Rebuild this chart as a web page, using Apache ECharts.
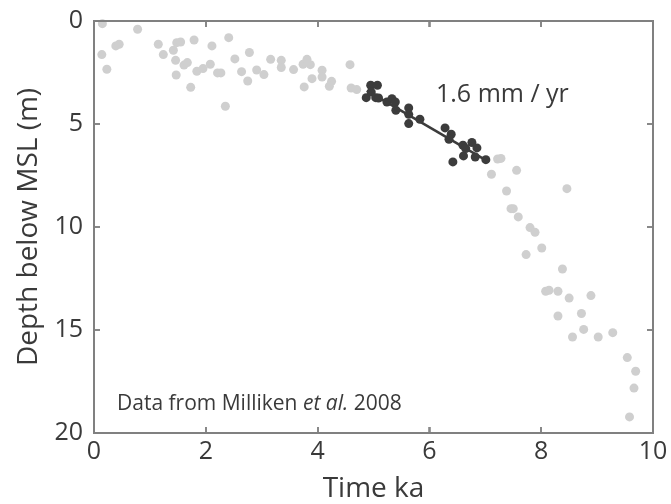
<!DOCTYPE html>
<html>
<head>
<meta charset="utf-8">
<script src="https://cdn.jsdelivr.net/npm/echarts@6/dist/echarts.min.js"></script>
<style>html,body{margin:0;padding:0;background:#fff}#c{width:671px;height:504px}</style>
</head>
<body>
<div id="c"></div>
<script>
// Grey points: [time ka, depth m]
var greyPoints = [
  [0.15,0.13],[0.14,1.63],[0.23,2.34],[0.39,1.21],[0.45,1.13],[0.78,0.40],
  [1.15,1.13],[1.24,1.63],[1.42,1.42],[1.48,1.05],[1.55,1.02],[1.46,1.91],
  [1.47,2.62],[1.61,2.14],[1.67,2.02],[1.73,3.22],[1.79,0.92],[1.84,2.44],
  [1.95,2.31],[2.08,2.10],[2.11,1.21],[2.21,2.52],[2.27,2.52],[2.35,4.14],
  [2.41,0.81],[2.52,1.84],[2.64,2.46],[2.75,2.91],[2.78,1.53],[2.91,2.38],
  [3.04,2.60],[3.16,1.86],[3.35,1.91],[3.35,2.26],[3.57,2.36],[3.74,2.10],
  [3.81,1.86],[3.87,2.12],[3.90,2.80],[3.76,3.20],[4.08,2.39],[4.08,2.72],
  [4.25,2.93],[4.21,3.17],[4.58,2.12],[4.60,3.25],[4.70,3.33],
  [7.22,6.70],[7.28,6.67],[7.11,7.44],[7.56,7.25],[7.38,8.25],[8.46,8.14],
  [7.46,9.11],[7.50,9.11],[7.59,9.51],[7.80,10.03],[7.89,10.26],[8.01,11.02],
  [7.73,11.34],[8.38,12.04],[8.08,13.12],[8.14,13.07],[8.30,13.12],[8.50,13.45],
  [8.89,13.33],[8.30,14.32],[8.72,14.20],[8.56,15.34],[8.76,14.97],[9.02,15.34],
  [9.28,15.13],[9.54,16.34],[9.69,17.00],[9.66,17.82],[9.58,19.22]
];
// Dark points (fitted subset)
var darkPoints = [
  [4.95,3.12],[5.07,3.12],[4.87,3.72],[4.96,3.45],[5.04,3.72],[5.09,3.74],
  [5.24,3.93],[5.33,3.77],[5.39,3.93],[5.40,4.33],[5.63,4.22],[5.63,4.53],
  [5.63,4.98],[5.83,4.77],[6.28,5.19],[6.39,5.50],[6.35,5.74],[6.42,6.84],
  [6.60,6.03],[6.61,6.55],[6.76,5.90],[6.85,6.16],[6.65,6.19],[6.82,6.60],
  [7.01,6.73]
];
// Trend line end points (1.6 mm/yr)
var trendLine = [[4.88,3.38],[7.0,6.74]];
var xTicks = [0,2,4,6,8,10];
var yTicks = [0,5,10,15,20];

var font = '"Open Sans", sans-serif';
var axisCol = '#808080';
var textCol = '#3a3a3a';
var chart = echarts.init(document.getElementById('c'));
function xAx(extra){
  return Object.assign({
    type:'value', min:0, max:10, interval:2, z:5,
    axisLine:{show:true, onZero:false, lineStyle:{color:axisCol, width:2}},
    axisTick:{show:true, inside:true, length:6, lineStyle:{color:axisCol, width:1.5}},
    splitLine:{show:false}
  }, extra);
}
function yAx(extra){
  return Object.assign({
    type:'value', min:0, max:20, interval:5, inverse:true, z:5,
    axisLine:{show:true, onZero:false, lineStyle:{color:axisCol, width:2}},
    axisTick:{show:true, inside:true, length:6, lineStyle:{color:axisCol, width:1.5}},
    splitLine:{show:false}
  }, extra);
}
chart.setOption({
  animation:false,
  grid:{left:94, right:18, top:21, bottom:71, outerBoundsMode:'none', containLabel:false},
  xAxis:[
    xAx({position:'bottom',
      name:'Time ka', nameLocation:'middle', nameGap:42,
      nameTextStyle:{fontFamily:font, fontSize:28, color:textCol},
      axisLabel:{fontFamily:font, fontSize:25, color:textCol, margin:6,
        formatter:function(v){return xTicks.indexOf(v)>=0?String(v):'';}}}),
    xAx({position:'top', axisLabel:{show:false}})
  ],
  yAxis:[
    yAx({position:'left',
      name:'Depth below MSL (m)', nameLocation:'middle', nameGap:48,
      nameTextStyle:{fontFamily:font, fontSize:28, color:textCol},
      axisLabel:{fontFamily:font, fontSize:25, color:textCol, margin:11,
        formatter:function(v){return yTicks.indexOf(v)>=0?String(v):'';}}}),
    yAx({position:'right', axisLabel:{show:false}})
  ],
  series:[
    {type:'scatter', data:greyPoints, symbolSize:9, itemStyle:{color:'#cfcfcf', opacity:1}},
    {type:'line', data:trendLine, symbol:'none', lineStyle:{color:'#3c3c3c', width:2.5}, z:3},
    {type:'scatter', data:darkPoints, symbolSize:9, itemStyle:{color:'#3c3c3c', opacity:1}, z:4},
    {type:'scatter', data:[], xAxisIndex:1, yAxisIndex:1}
  ]
});

// Frame and inside ticks placed through the library's own scales
var finder = {xAxisIndex:0, yAxisIndex:0};
var pA = chart.convertToPixel(finder, [0, 0]);
var pB = chart.convertToPixel(finder, [10, 20]);
var L = Math.round(Math.min(pA[0], pB[0])), R = Math.round(Math.max(pA[0], pB[0]));
var T = Math.round(Math.min(pA[1], pB[1])), B = Math.round(Math.max(pA[1], pB[1]));
var frameStyle = {stroke:axisCol, lineWidth:2, fill:'transparent'};
var tickStyle = {stroke:axisCol, lineWidth:1.5};
var graphics = [
  {type:'rect', z:50, silent:true, shape:{x:L, y:T, width:R-L, height:B-T}, style:frameStyle}
];
xTicks.forEach(function(v){
  var px = Math.round(chart.convertToPixel(finder, [v, 0])[0]);
  graphics.push({type:'line', z:50, silent:true, shape:{x1:px, y1:B, x2:px, y2:B-6}, style:tickStyle});
  graphics.push({type:'line', z:50, silent:true, shape:{x1:px, y1:T, x2:px, y2:T+6}, style:tickStyle});
});
yTicks.forEach(function(v){
  var py = Math.round(chart.convertToPixel(finder, [0, v])[1]);
  graphics.push({type:'line', z:50, silent:true, shape:{x1:L, y1:py, x2:L+6, y2:py}, style:tickStyle});
  graphics.push({type:'line', z:50, silent:true, shape:{x1:R, y1:py, x2:R-6, y2:py}, style:tickStyle});
});
graphics.push({type:'text', z:60, left:436, top:82, style:{text:'1.6 mm / yr', font:'25px "Open Sans", sans-serif', fill:textCol}});
graphics.push({type:'text', z:60, left:117, top:394, style:{
  text:'{n|Data from Milliken }{i|et al.}{n| 2008}',
  rich:{
    n:{fontFamily:font, fontSize:21, fill:textCol, color:textCol},
    i:{fontFamily:font, fontSize:21, fontStyle:'italic', fill:textCol, color:textCol}
  }}});
chart.setOption({graphic: graphics});
</script>
</body>
</html>
